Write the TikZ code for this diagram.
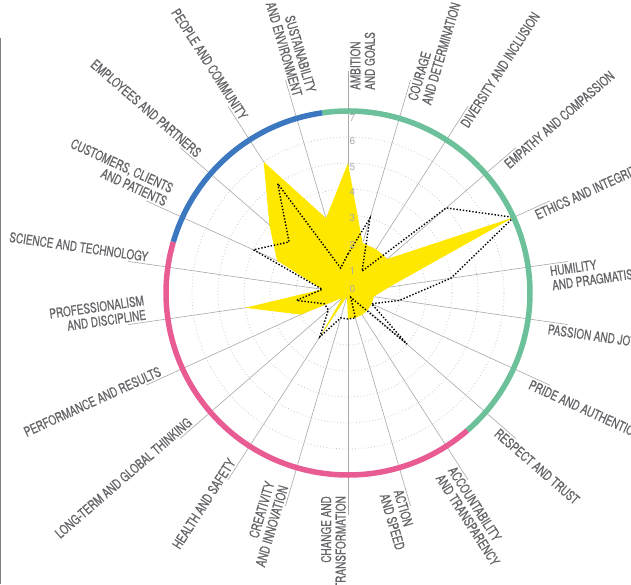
\documentclass[tikz,border=0pt]{standalone}
\usepackage{fontspec}
\newfontfamily\lblfont{TeX Gyre Heros}[FakeStretch=0.74,FakeBold=0.6]
\newfontfamily\numfont{TeX Gyre Heros}

\definecolor{valgreen}{HTML}{6CC19A}
\definecolor{valblue}{HTML}{3B78BF}
\definecolor{valpink}{HTML}{E95C93}
\definecolor{valyellow}{HTML}{FFE800}
\definecolor{lblgray}{HTML}{646568}
\definecolor{spokegray}{HTML}{A8A8A8}
\definecolor{ringgray}{HTML}{C4C4C4}
\definecolor{numgray}{HTML}{ABABAB}

\begin{document}
\begin{tikzpicture}[x=1pt,y=1pt,
		spoke/.style={spokegray, line width=0.6pt},
		ring/.style={ringgray, line width=0.7pt, dash pattern=on 0.8pt off 2.4pt},
		score/.style={black, line width=1.4pt, dash pattern=on 1.4pt off 1.8pt},
		lblR/.style={lblgray, font=\lblfont\fontsize{13.5}{14.5}\selectfont, inner sep=2pt, anchor=north west, align=left},
		lblL/.style={lblgray, font=\lblfont\fontsize{13.5}{14.5}\selectfont, inner sep=2pt, anchor=south east, align=right},
		band/.style={line width=5.5pt}]
	\useasboundingbox (-348,-291) rectangle (283,293);
	\coordinate (O) at (0,0);

	% page edge
	\draw[gray, line width=1.5pt] (-347.25,255) -- (-347.25,-291);

	% spokes
	\foreach \k in {0,...,21}{
		\coordinate (s\k) at ({90-\k*360/22}:222);
		\draw[spoke] (O) -- (s\k);
	}

	% rings
	\foreach \r in {1,...,6}
		\draw[ring] (O) circle[radius=26*\r];

	% values
	\foreach \v [count=\k from 0] in {5,2,2,2,7,1.6,1,1,1,1,1,1,0.15,2,0.3,2,4,1,3,4,6,3}
		\coordinate (y\k) at ({90-\k*360/22}:{26*\v});
	\fill[valyellow] (y0) \foreach \k in {1,...,21}{ -- (y\k)} -- cycle;

	\foreach \v [count=\k from 0] in {1.5,3,1,5,7,4,2,1,3,0.2,1,1,1,2,1,1,2,1,4,3,5,1}
		\coordinate (d\k) at ({90-\k*360/22}:{26*\v});
	\draw[score] (d0) \foreach \k in {1,...,21}{ -- (d\k)} -- cycle;

	% scale numbers
	\foreach \n/\ry in {0/4,1/22,2/48,3/75,4/101,5/126,6/152,7/175}
		\node[numgray, font=\numfont\fontsize{10}{10}\selectfont, inner sep=0pt] (n\n) at (4.5,\ry) {\n};

	% outer band
	\draw[band, valgreen] (98.1818:182) arc[start angle=98.1818, end angle=-49.0909, radius=182];
	\draw[band, valpink] (-49.0909:182) arc[start angle=-49.0909, end angle=-196.3636, radius=182];
	\draw[band, valblue] (-196.3636:182) arc[start angle=-196.3636, end angle=-261.8182, radius=182];

	% labels
	\foreach \k/\txt in {0/{AMBITION\\AND GOALS}, 1/{COURAGE\\AND DETERMINATION},
		2/{DIVERSITY AND INCLUSION}, 3/{EMPATHY AND COMPASSION}, 4/{ETHICS AND INTEGRITY},
		5/{HUMILITY\\AND PRAGMATISM}, 6/{PASSION AND JOY}, 7/{PRIDE AND AUTHENTICITY},
		8/{RESPECT AND TRUST}, 9/{ACCOUNTABILITY\\AND TRANSPARENCY}, 10/{ACTION\\AND SPEED},
		11/{CHANGE AND\\TRANSFORMATION}, 12/{CREATIVITY\\AND INNOVATION}, 13/{HEALTH AND SAFETY},
		14/{LONG-TERM AND GLOBAL THINKING}, 15/{PERFORMANCE AND RESULTS},
		16/{PROFESSIONALISM\\AND DISCIPLINE}, 17/{SCIENCE AND TECHNOLOGY},
		18/{CUSTOMERS, CLIENTS\\AND PATIENTS}, 19/{EMPLOYEES AND PARTNERS},
		20/{PEOPLE AND COMMUNITY}, 21/{SUSTAINABILITY\\AND ENVIRONMENT}}{
		\pgfmathsetmacro\a{90-\k*360/22}
		\ifnum\k<11
			\node[lblR, rotate=\a] (l\k) at (\a:201) {\txt};
		\else
			\pgfmathsetmacro\b{\a+180}
			\node[lblL, rotate=\b] (l\k) at (\a:201) {\txt};
		\fi
	}
\end{tikzpicture}
\end{document}
